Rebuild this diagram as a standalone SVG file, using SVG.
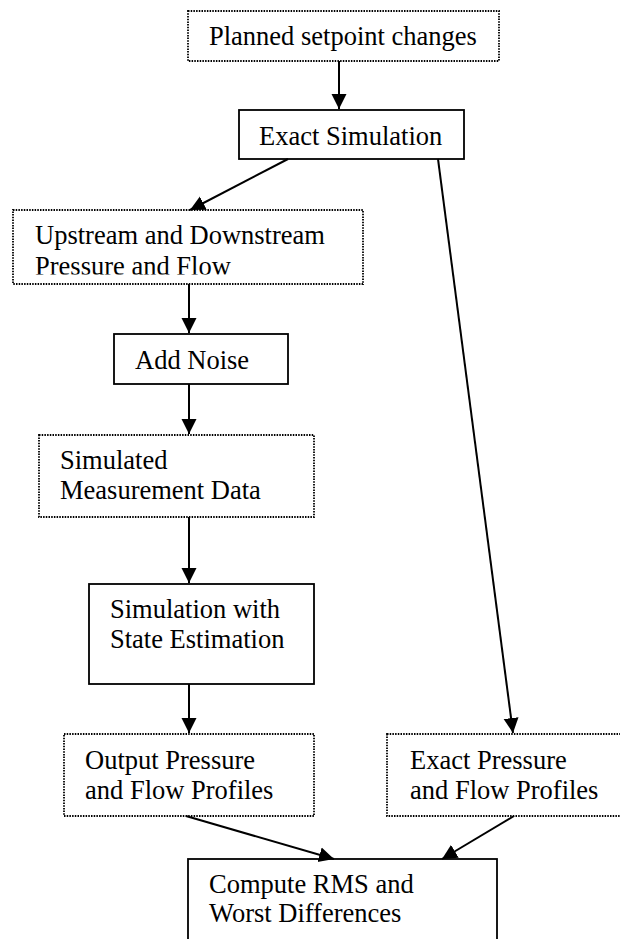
<svg xmlns="http://www.w3.org/2000/svg" width="620" height="939" viewBox="0 0 620 939">
<style>
.solid{fill:#fff;stroke:#000;stroke-width:1.8}
.dot{fill:#fff;stroke:#000;stroke-width:1.8;stroke-dasharray:1.5 1.2}
.t{font-family:"Liberation Serif","Times New Roman",serif;font-size:26.5px;fill:#000}
.c{stroke:#000;stroke-width:2;fill:none;marker-end:url(#ah)}
</style>
<defs>
<marker id="ah" markerUnits="userSpaceOnUse" markerWidth="16" markerHeight="16" viewBox="0 0 16 16" refX="15" refY="8" orient="auto">
<path d="M0,0.5 L15,8 L0,15.5 Z" fill="#000"/>
</marker>
<clipPath id="clipUp"><rect x="13" y="210" width="350" height="64.5"/></clipPath>
</defs>
<g id="n1"><rect class="dot" x="188" y="11" width="311" height="50"/><text class="t" x="209" y="45">Planned setpoint changes</text></g>
<g id="n2"><rect class="solid" x="239" y="110" width="225" height="49"/><text class="t" x="259" y="145">Exact Simulation</text></g>
<g id="n3"><rect class="dot" x="13" y="210" width="350" height="74"/><g clip-path="url(#clipUp)"><text class="t" x="35" y="244">Upstream and Downstream</text><text class="t" x="35" y="275">Pressure and Flow</text></g></g>
<g id="n4"><rect class="solid" x="114" y="334" width="174" height="50"/><text class="t" x="135" y="369">Add Noise</text></g>
<g id="n5"><rect class="dot" x="39" y="435" width="275" height="82"/><text class="t" x="60" y="469">Simulated</text><text class="t" x="60" y="499">Measurement Data</text></g>
<g id="n6"><rect class="solid" x="89" y="584" width="225" height="100"/><text class="t" x="110" y="618">Simulation with</text><text class="t" x="110" y="648">State Estimation</text></g>
<g id="n7"><rect class="dot" x="64" y="734" width="250" height="82"/><text class="t" x="85" y="769">Output Pressure</text><text class="t" x="85" y="799">and Flow Profiles</text></g>
<g id="n8"><rect class="dot" x="387" y="734" width="240" height="82"/><text class="t" x="410" y="769">Exact Pressure</text><text class="t" x="410" y="799">and Flow Profiles</text></g>
<g id="n9"><rect class="solid" x="188" y="859" width="309" height="90"/><text class="t" x="209" y="893">Compute RMS and</text><text class="t" x="209" y="922">Worst Differences</text></g>
<g id="connectors">
<path class="c" d="M339,61 L339,109"/>
<path class="c" d="M288,159 L190,210"/>
<path class="c" d="M438,159 L513,733"/>
<path class="c" d="M189,284 L189,333"/>
<path class="c" d="M189,384 L189,434"/>
<path class="c" d="M189,517 L189,583"/>
<path class="c" d="M189,684 L189,733"/>
<path class="c" d="M186,816 L334,859"/>
<path class="c" d="M514,816 L442,859"/>
</g>
</svg>
